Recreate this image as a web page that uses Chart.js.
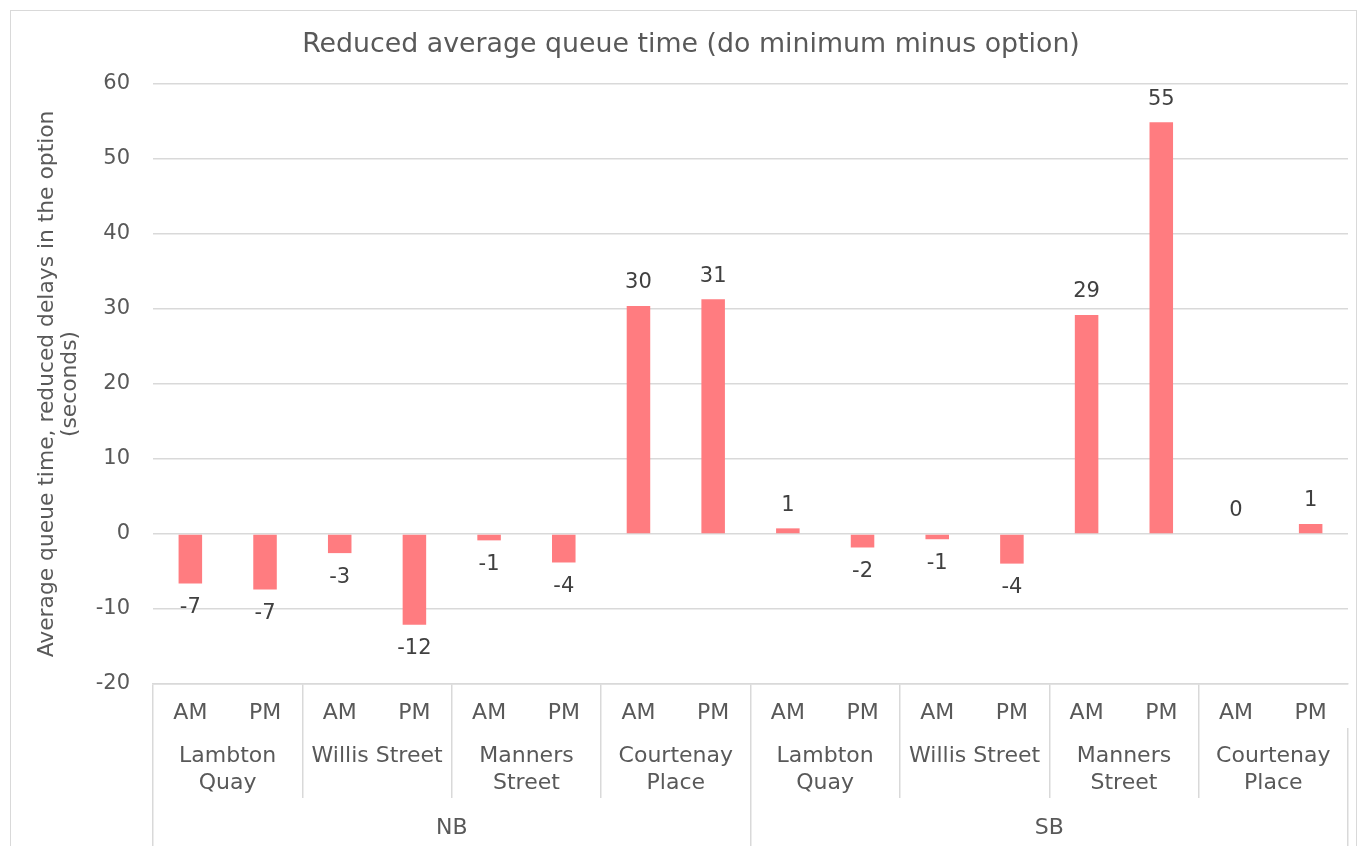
<!DOCTYPE html>
<html>
<head>
<meta charset="utf-8">
<script src="https://cdn.jsdelivr.net/npm/chart.js@4.4.1/dist/chart.umd.min.js"></script>
<style>
  html, body { margin: 0; padding: 0; background: #fff; overflow: hidden; }
  #frame { position: absolute; left: 10px; top: 10px; width: 1347px; height: 900px; border: 1.5px solid #d9d9d9; box-sizing: border-box; }
  #wrap { position: absolute; left: 0; top: 0; width: 1360px; height: 846px; }
</style>
</head>
<body>
<div id="frame"></div>
<div id="wrap"><canvas id="c" width="1360" height="846"></canvas></div>
<script>
const periods = ['AM','PM','AM','PM','AM','PM','AM','PM','AM','PM','AM','PM','AM','PM','AM','PM'];
const locations = [['Lambton','Quay'], 'Willis Street', ['Manners','Street'], ['Courtenay','Place'],
                   ['Lambton','Quay'], 'Willis Street', ['Manners','Street'], ['Courtenay','Place']];
const directions = ['NB', 'SB'];
const queueReduction = [-6.6, -7.4, -2.55, -12.1, -0.85, -3.8, 30.4, 31.3,
                        0.75, -1.8, -0.7, -3.95, 29.2, 54.9, 0.0, 1.33];
const yTicks = { min: -20, max: 60, step: 10 };

const FONT = "'DejaVu Sans', sans-serif";
const TXT = '#595959';
const GRID = '#d9d9d9';

const dataLabels = {
  id: 'dataLabels',
  afterDatasetsDraw(chart) {
    const ctx = chart.ctx;
    const meta = chart.getDatasetMeta(0);
    ctx.save();
    ctx.font = "21px " + FONT;
    ctx.fillStyle = '#404040';
    ctx.textAlign = 'center';
    ctx.textBaseline = 'middle';
    meta.data.forEach((el, i) => {
      const v = queueReduction[i];
      let s = v.toFixed(0);
      if (s === '-0') s = '0';
      const y = v >= 0 ? el.y - 23 : el.y + 24;
      ctx.fillText(s, el.x, y);
    });
    ctx.restore();
  }
};

function fixH(h) { return (scale) => { scale.height = h; }; }

new Chart(document.getElementById('c'), {
  type: 'bar',
  data: {
    labels: periods,
    datasets: [{
      data: queueReduction,
      backgroundColor: '#ff7c80',
      borderWidth: 0,
      barPercentage: 0.315,
      categoryPercentage: 1.0
    }]
  },
  options: {
    responsive: false,
    animation: false,
    devicePixelRatio: 1,
    layout: { padding: { left: 34, right: 12, top: 0, bottom: 0 } },
    plugins: {
      legend: { display: false },
      tooltip: { enabled: false },
      title: {
        display: true,
        text: 'Reduced average queue time (do minimum minus option)',
        color: TXT,
        font: { family: FONT, size: 26.8, weight: 'normal', lineHeight: 1.2 },
        padding: { top: 29, bottom: 22.8 }
      }
    },
    scales: {
      y: {
        min: yTicks.min, max: yTicks.max,
        afterFit: (s) => { s.width = 119; },
        ticks: { stepSize: yTicks.step, color: TXT, padding: 23, font: { family: FONT, size: 21 } },
        grid: { color: GRID, lineWidth: 1.5, drawTicks: false },
        border: { display: false },
        title: {
          display: true,
          text: ['Average queue time, reduced delays in the option', '(seconds)'],
          color: TXT,
          font: { family: FONT, size: 21.8, lineHeight: 1.055 },
          padding: { top: 1.5, bottom: 0 }
        }
      },
      x: {
        type: 'category',
        position: 'bottom',
        afterFit: fixH(44),
        ticks: { color: TXT, padding: -28.2, font: { family: FONT, size: 22, lineHeight: 1.2 }, maxRotation: 0, autoSkip: false },
        grid: {
          offset: true, drawOnChartArea: false, drawTicks: true, tickLength: 44, lineWidth: 1.5,
          color: (c) => (c.index % 2 === 0 ? GRID : 'rgba(0,0,0,0)')
        },
        border: { display: true, color: GRID, width: 1.5 }
      },
      xLoc: {
        type: 'category',
        position: 'bottom',
        labels: locations,
        offset: true,
        afterFit: fixH(70),
        ticks: { color: TXT, padding: -55.5, font: { family: FONT, size: 22, lineHeight: 1.23 }, maxRotation: 0, autoSkip: false },
        grid: { offset: true, drawOnChartArea: false, drawTicks: true, tickLength: 70, color: GRID, lineWidth: 1.5 },
        border: { display: false }
      },
      xDir: {
        type: 'category',
        position: 'bottom',
        labels: directions,
        offset: true,
        afterFit: fixH(48),
        ticks: { color: TXT, padding: -31.2, font: { family: FONT, size: 22, lineHeight: 1.2 }, maxRotation: 0, autoSkip: false },
        grid: { offset: true, drawOnChartArea: false, drawTicks: true, tickLength: 48, color: GRID, lineWidth: 1.5 },
        border: { display: false }
      }
    }
  },
  plugins: [dataLabels]
});
</script>
</body>
</html>
